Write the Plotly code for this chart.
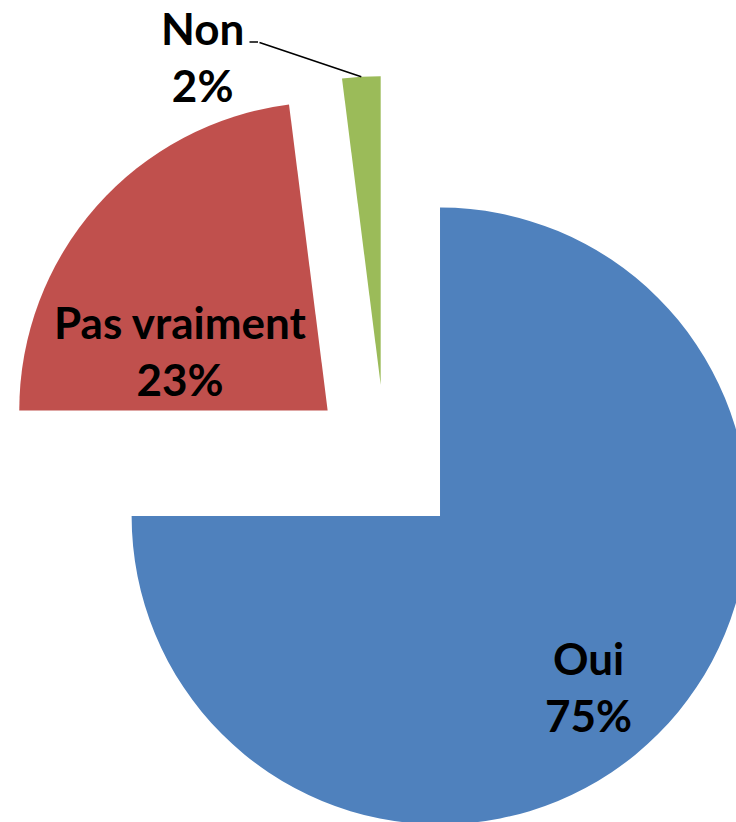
import math
import plotly.graph_objects as go

labels = ["Oui", "Pas vraiment", "Non"]
values = [75, 23, 2]
colors = ["#4F81BD", "#C0504D", "#9BBB59"]
pulls = [0.25, 0.25, 0.25]

W, H = 771, 923
FONT = "Lato"
FSIZE = 44

total = sum(values)
label_texts = [f"{l}<br>{round(v * 100 / total)}%" for l, v in zip(labels, values)]
# label centres (pixels) as placed in the reference
label_pos = [(588, 686), (180, 350), (202, 57)]

fig = go.Figure(go.Pie(
    labels=labels,
    values=values,
    textinfo="none",
    sort=False,
    direction="clockwise",
    rotation=0,
    pull=pulls,
    marker=dict(colors=colors, line=dict(width=0)),
    showlegend=False,
    hoverinfo="label+percent",
))

for t, (px, py) in zip(label_texts, label_pos):
    fig.add_annotation(
        x=px / W, y=1 - py / H, xref="paper", yref="paper",
        xanchor="center", yanchor="middle",
        text=t, showarrow=False,
        font=dict(family=FONT, size=FSIZE, color="black", weight="bold"),
    )

# leader line for the small slice, ending at the middle of its outer arc
r = min(W, H) / (2 + 2 * max(pulls))
cx, cy = W / 2, H / 2
start = sum(values[:2]) / total * 2 * math.pi
mid = start + values[2] / total * math.pi
R = r * (1 + pulls[2])
tx = cx + R * math.sin(mid)
ty = cy - R * math.cos(mid)
elbow = (258, 42)
fig.add_annotation(
    x=tx / W, y=1 - ty / H, xref="paper", yref="paper",
    text="", showarrow=True, arrowhead=0, arrowwidth=1.6, arrowcolor="black",
    ax=elbow[0] - tx, ay=elbow[1] - ty, standoff=0, startstandoff=0,
)
fig.add_annotation(
    x=elbow[0] / W, y=1 - elbow[1] / H, xref="paper", yref="paper",
    text="", showarrow=True, arrowhead=0, arrowwidth=1.6, arrowcolor="black",
    ax=-10, ay=0, standoff=0, startstandoff=0,
)

fig.update_layout(
    width=W, height=H,
    margin=dict(l=0, r=0, t=0, b=0),
    paper_bgcolor="white",
    plot_bgcolor="white",
)

fig.write_html(
    "out.html",
    config={"displayModeBar": False},
    post_script="document.body.style.margin='0';document.body.style.overflow='hidden';"
                "document.documentElement.style.overflow='hidden';",
)
